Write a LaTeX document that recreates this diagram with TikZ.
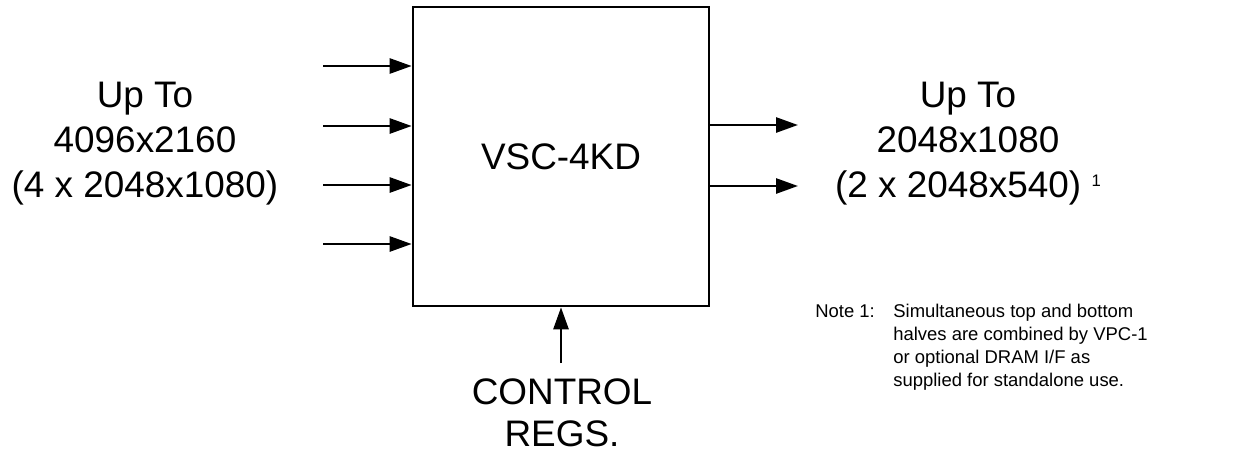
\documentclass[tikz,border=0pt]{standalone}
\usepackage{fontspec}
\setmainfont{Liberation Sans}
\usepackage{tikz}
\usetikzlibrary{arrows.meta, positioning}

\tikzset{
    segnale/.style={line width=1.5pt, -{Triangle[length=0.44cm, width=0.3cm]}},
    testogrande/.style={font=\fontsize{21}{25.5}\selectfont, align=center, inner sep=0pt},
    testonota/.style={font=\fontsize{10.5}{13.1}\selectfont, inner sep=0pt}
}

\begin{document}
\begin{tikzpicture}

    \useasboundingbox (0,0) rectangle (25.06,9.08);

    % ==========================================
    % 1. BLOCCO CENTRALE
    % ==========================================
    \node[draw, line width=1.5pt, minimum width=5.92cm, minimum height=5.98cm,
          font=\fontsize{21}{25.5}\selectfont] (vsc) at (11.22,5.95) {VSC-4KD};

    % ==========================================
    % 2. INGRESSI (A SINISTRA)
    % ==========================================
    \foreach \y/\n in {7.76/1, 6.56/2, 5.38/3, 4.20/4} {
        \coordinate (in\n) at (6.46,\y);
        \draw[segnale] (in\n) -- (in\n -| vsc.west);
    }
    \node[testogrande] (ingresso) at (2.90,6.21) {Up To\\4096x2160\\(4 x 2048x1080)};

    % ==========================================
    % 3. USCITE (A DESTRA)
    % ==========================================
    \coordinate (out1) at (15.96,6.58);
    \coordinate (out2) at (15.96,5.36);
    \draw[segnale] (out1 -| vsc.east) -- (out1);
    \draw[segnale] (out2 -| vsc.east) -- (out2);
    \node[testogrande] (uscita) at (19.36,6.21) {Up To\\2048x1080\\(2 x 2048x540) \raisebox{0.22cm}{\fontsize{9.5}{11}\selectfont 1}};

    % ==========================================
    % 4. CONTROLLO (IN BASSO)
    % ==========================================
    \coordinate (ctl) at (11.22,1.82);
    \draw[segnale] (ctl) -- (ctl |- vsc.south);
    \node[testogrande, font=\fontsize{21}{23.8}\selectfont] (registri) at (11.24,0.83) {CONTROL\\REGS.};

    % Nota
    \node[testonota, anchor=base west] (nota) at (16.30,2.74) {Note 1:};
    \node[testonota, align=left, anchor=north west] (testonota) at (17.86,3.01)
        {Simultaneous top and bottom\\halves are combined by VPC-1\\or optional DRAM I/F as\\supplied for standalone use.};

\end{tikzpicture}
\end{document}
